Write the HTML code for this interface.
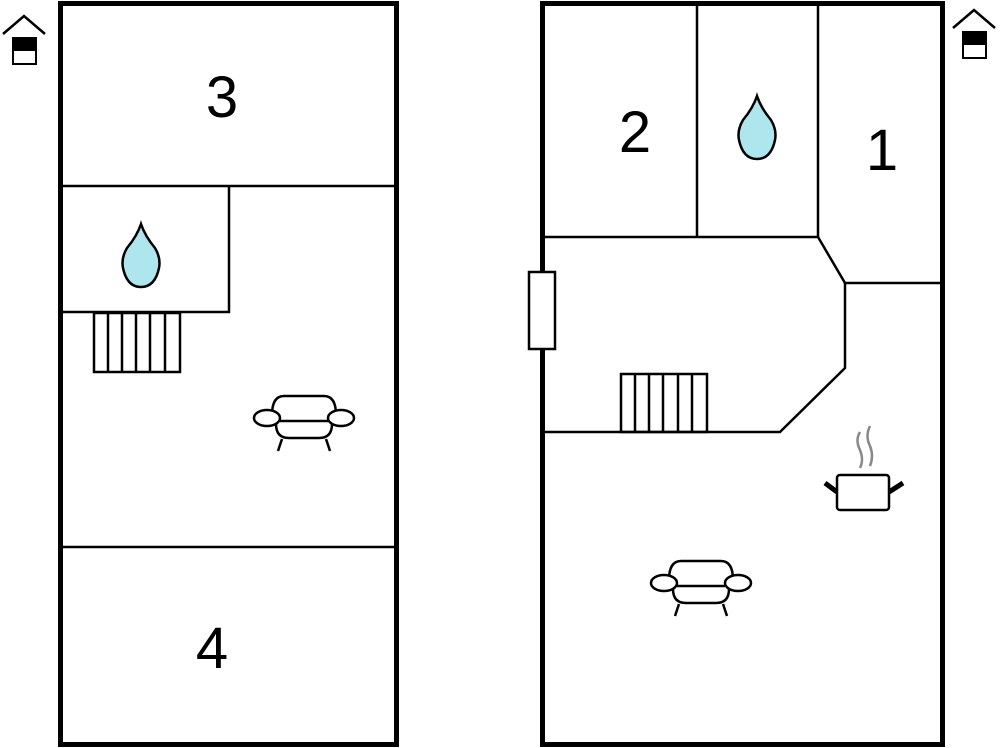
<!DOCTYPE html><html><head><style>body{margin:0;background:#fff}svg{display:block}text{font-family:"Liberation Sans",sans-serif;font-size:58px;fill:#000}</style></head><body>
<svg width="1000" height="748" viewBox="0 0 1000 748">
<defs>
<g id="sofa" fill="#fff" stroke="#000" stroke-width="2.5">
<path d="M-32 -3 Q-32 -22 -20 -22 L20 -22 Q32 -22 32 -3"/>
<path d="M-28 6 Q-28 20 -15 20 L15 20 Q28 20 28 6"/>
<ellipse cx="-37" cy="0" rx="13" ry="8"/><ellipse cx="37" cy="0" rx="13" ry="8"/>
<line x1="-24" y1="3" x2="24" y2="3"/>
<line x1="-22" y1="21" x2="-26" y2="33"/><line x1="22" y1="21" x2="26" y2="33"/>
</g>
<path id="drop" d="M0 -32 Q4 -20 14 -8 Q20 2 18 12 Q14 31 0 31 Q-14 31 -18 12 Q-20 2 -14 -8 Q-4 -20 0 -32Z" fill="#aee6ee" stroke="#000" stroke-width="2.5"/>
<g id="house"><path d="M3 28 L24 10 L45 28" fill="none" stroke="#000" stroke-width="2.5"/><rect x="12" y="31" width="25" height="13" fill="#000"/><rect x="13" y="44" width="23" height="14" fill="#fff" stroke="#000" stroke-width="2"/></g>
</defs>
<use href="#house" x="0" y="6"/>
<use href="#house" x="950" y="0"/>
<g fill="none" stroke="#000">
<rect x="60.5" y="3.5" width="336" height="741" stroke-width="5"/>
<rect x="542.5" y="3.5" width="400" height="741" stroke-width="5"/>
<g stroke-width="2.5">
<line x1="60" y1="186" x2="397" y2="186"/>
<polyline points="60,312 229,312 229,186"/>
<line x1="60" y1="547" x2="397" y2="547"/>
<rect x="94" y="313" width="86" height="59"/>
<path d="M108 313V372M122 313V372M136 313V372M150 313V372M165 313V372"/>
<line x1="697" y1="3" x2="697" y2="237"/>
<line x1="818" y1="3" x2="818" y2="237"/>
<polyline points="542,237 818,237 845,283 943,283"/>
<polyline points="845,283 845,368 780,432 542,432"/>
<rect x="621" y="374" width="86" height="58"/>
<path d="M635 374V432M649 374V432M663 374V432M678 374V432M692 374V432"/>
</g>
<rect x="529" y="272" width="26" height="77" fill="#fff" stroke-width="2.5"/>
</g>
<text x="222" y="117" text-anchor="middle">3</text>
<text x="212" y="668" text-anchor="middle">4</text>
<text x="635" y="152" text-anchor="middle">2</text>
<text x="882" y="170" text-anchor="middle">1</text>
<use href="#drop" x="141" y="256"/>
<use href="#drop" x="757" y="128"/>
<use href="#sofa" x="304" y="418"/>
<use href="#sofa" x="701" y="583"/>
<g stroke="#888" stroke-width="2.5" fill="none"><path d="M860 432 Q855 440 860 450 Q864 460 860 468"/><path d="M870 426 Q865 436 870 446 Q874 456 870 466"/></g>
<rect x="837" y="475" width="52" height="35" rx="3" fill="#fff" stroke="#000" stroke-width="2.5"/>
<line x1="825" y1="483" x2="837" y2="492" stroke="#000" stroke-width="5"/>
<line x1="889" y1="492" x2="903" y2="483" stroke="#000" stroke-width="5"/>
</svg></body></html>
